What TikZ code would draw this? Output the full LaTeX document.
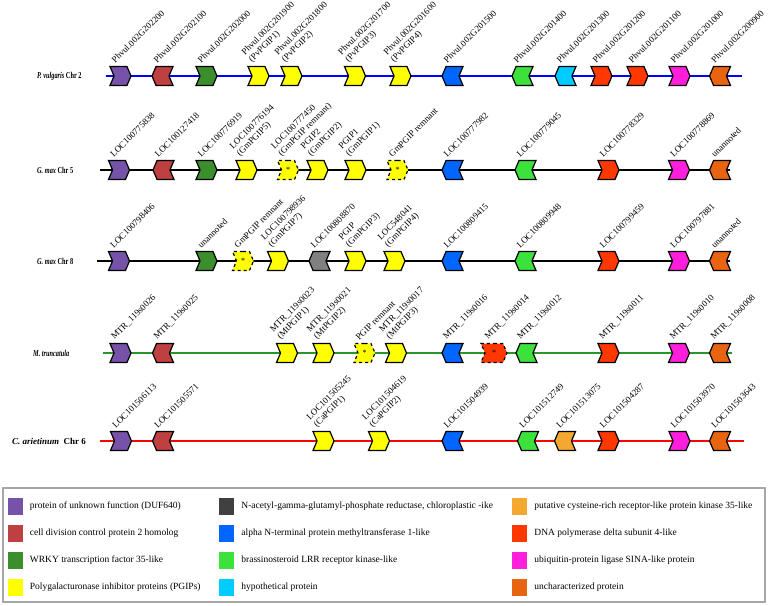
\documentclass[tikz,border=0pt]{standalone}
\usepackage{fontspec}
\setmainfont{Liberation Serif}
\usetikzlibrary{shapes.symbols}

\definecolor{cPurple}{RGB}{118,82,168}
\definecolor{cBrick}{RGB}{190,64,64}
\definecolor{cLeaf}{RGB}{58,142,44}
\definecolor{cYellow}{RGB}{255,255,0}
\definecolor{cGray}{RGB}{128,128,128}
\definecolor{cDark}{RGB}{64,64,64}
\definecolor{cBlue}{RGB}{0,102,255}
\definecolor{cLime}{RGB}{60,225,60}
\definecolor{cCyan}{RGB}{0,204,255}
\definecolor{cAmber}{RGB}{245,168,48}
\definecolor{cScarlet}{RGB}{255,56,0}
\definecolor{cPink}{RGB}{255,30,220}
\definecolor{cOrange}{RGB}{232,100,16}
\definecolor{lineBlue}{RGB}{0,0,255}
\definecolor{lineGreen}{RGB}{40,150,40}
\definecolor{lineRed}{RGB}{255,0,0}

\tikzset{
  gene/.style={signal, draw, line width=1.2pt, inner sep=0pt,
    minimum width=21pt, minimum height=19pt, signal pointer angle=134},
  fwd/.style={gene, signal from=west, signal to=east},
  rev/.style={gene, signal from=east, signal to=west},
  fwdrem/.style={fwd, dashed, path picture={
    \node[font=\fontsize{8}{8}\selectfont] at (path picture bounding box.center) {*};}},
  fwdremw/.style={fwdrem, minimum width=26pt},
  lbl/.style={rotate=45, anchor=south west, align=left, inner sep=0pt,
    font=\fontsize{9}{10}\selectfont},
  chrom/.style={line width=1.5pt},
  species/.style={anchor=west, inner sep=0pt, font=\bfseries\fontsize{9}{10}\selectfont},
  key/.style={minimum width=15pt, minimum height=17pt, inner sep=0pt},
  keytext/.style={anchor=west, inner sep=0pt, font=\fontsize{9.5}{11}\selectfont}
}

\begin{document}
\begin{tikzpicture}[x=1pt,y=-1pt]
\useasboundingbox (0,0) rectangle (778,605);

% P. vulgaris
\node[species] (pvName) at (37,76) {\scalebox{0.7}[1]{\textit{P. vulgaris} Chr 2}};
\coordinate (pvL) at (106,76); \coordinate (pvR) at (742,76);
\draw[chrom,lineBlue] (pvL) -- (pvR);
\foreach \x/\d/\c/\t [count=\i] in {
  120.5/fwd/cPurple/{Phvul.002G202200}, 162.5/rev/cBrick/{Phvul.002G202100},
  206.5/fwd/cLeaf/{Phvul.002G202000}, 258.5/fwd/cYellow/{Phvul.002G201900\\(PvPGIP1)},
  291.5/fwd/cYellow/{Phvul.002G201800\\(PvPGIP2)}, 355/fwd/cYellow/{Phvul.002G201700\\(PvPGIP3)},
  400.5/fwd/cYellow/{Phvul.002G201600\\(PvPGIP4)}, 452.5/rev/cBlue/{Phvul.002G201500},
  522.5/rev/cLime/{Phvul.002G201400}, 565.5/rev/cCyan/{Phvul.002G201300},
  601.5/fwd/cScarlet/{Phvul.002G201200}, 637.5/fwd/cScarlet/{Phvul.002G201100},
  679.5/fwd/cPink/{Phvul.002G201000}, 720/rev/cOrange/{Phvul.002G200900}}
{
  \node[\d,fill=\c] (pv\i) at (\x,76) {};
  \node[lbl] (pvl\i) at ([xshift=-5pt,yshift=2pt]pv\i.north) {\t};
}

% G. max Chr 5
\node[species] (gaName) at (37,170) {\scalebox{0.7}[1]{\textit{G. max} Chr 5}};
\coordinate (gaL) at (100,170); \coordinate (gaR) at (730,170);
\draw[chrom] (gaL) -- (gaR);
\foreach \x/\d/\c/\t [count=\i] in {
  119/fwd/cPurple/{LOC100775838}, 163.5/rev/cBrick/{LOC100127418},
  206.5/fwd/cLeaf/{LOC100776919}, 246.5/fwd/cYellow/{LOC100776194\\(GmPGIP5)},
  288/fwdrem/cYellow/{LOC100777450\\(GmPGIP remnant)}, 317.5/fwd/cYellow/{PGIP2\\(GmPGIP2)},
  355.5/fwd/cYellow/{PGIP1\\(GmPGIP1)}, 397.5/fwdrem/cYellow/{GmPGIP remnant},
  452.5/rev/cBlue/{LOC100777982}, 525.5/rev/cLime/{LOC100779045},
  608.5/fwd/cScarlet/{LOC100778329}, 679/fwd/cPink/{LOC100778869},
  720/rev/cOrange/{unannoted}}
{
  \node[\d,fill=\c] (ga\i) at (\x,170) {};
  \node[lbl] (gal\i) at ([xshift=-5pt,yshift=2pt]ga\i.north) {\t};
}

% G. max Chr 8
\node[species] (gbName) at (37,261) {\scalebox{0.7}[1]{\textit{G. max} Chr 8}};
\coordinate (gbL) at (97,261); \coordinate (gbR) at (730,261);
\draw[chrom] (gbL) -- (gbR);
\foreach \x/\d/\c/\t [count=\i] in {
  119/fwd/cPurple/{LOC100798406}, 206.5/fwd/cLeaf/{unannoted},
  243/fwdrem/cYellow/{GmPGIP remnant}, 278/fwd/cYellow/{LOC100798936\\(GmPGIP7)},
  319.5/rev/cGray/{LOC100808870}, 355.5/fwd/cYellow/{PGIP\\(GmPGIP3)},
  394.5/fwd/cYellow/{LOC548041\\(GmPGIP4)}, 452.5/rev/cBlue/{LOC100809415},
  525.5/rev/cLime/{LOC100809948}, 608.5/fwd/cScarlet/{LOC100799459},
  679/fwd/cPink/{LOC100797881}, 720/rev/cOrange/{unannoted}}
{
  \node[\d,fill=\c] (gb\i) at (\x,261) {};
  \node[lbl] (gbl\i) at ([xshift=-5pt,yshift=2pt]gb\i.north) {\t};
}

% M. truncatula
\node[species] (mtName) at (33,353) {\scalebox{0.7}[1]{\textit{M. truncatula}}};
\coordinate (mtL) at (103,353); \coordinate (mtR) at (732,353);
\draw[chrom,lineGreen] (mtL) -- (mtR);
\foreach \x/\d/\c/\t [count=\i] in {
  120.5/fwd/cPurple/{MTR\_119s0026}, 163/rev/cBrick/{MTR\_119s0025},
  287/fwd/cYellow/{MTR\_119s0023\\(MtPGIP1)}, 323.5/fwd/cYellow/{MTR\_119s0021\\(MtPGIP2)},
  364.5/fwdrem/cYellow/{PGIP remnant}, 396/fwd/cYellow/{MTR\_119s0017\\(MtPGIP3)},
  452.5/rev/cBlue/{MTR\_119s0016}, 494/fwdremw/cScarlet/{MTR\_119s0014},
  526.5/rev/cLime/{MTR\_119s0012}, 608.5/fwd/cScarlet/{MTR\_119s0011},
  679/fwd/cPink/{MTR\_119s0010}, 720/rev/cOrange/{MTR\_119s0008}}
{
  \node[\d,fill=\c] (mt\i) at (\x,353) {};
  \node[lbl] (mtl\i) at ([xshift=-5pt,yshift=2pt]mt\i.north) {\t};
}

% C. arietinum Chr 6
\node[species] (caName) at (12,441) {\textit{C. arietinum}\ \ Chr 6};
\coordinate (caL) at (100,441); \coordinate (caR) at (744,441);
\draw[chrom,lineRed] (caL) -- (caR);
\foreach \x/\d/\c/\t [count=\i] in {
  121/fwd/cPurple/{LOC101506113}, 163/rev/cBrick/{LOC101505571},
  323.5/fwd/cYellow/{LOC101505245\\(CaPGIP1)}, 379/fwd/cYellow/{LOC101504619\\(CaPGIP2)},
  452.5/rev/cBlue/{LOC101504939}, 528/rev/cLime/{LOC101512749},
  565/rev/cAmber/{LOC101513075}, 608.5/fwd/cScarlet/{LOC101504287},
  679.5/fwd/cPink/{LOC101503970}, 720/rev/cOrange/{LOC101503643}}
{
  \node[\d,fill=\c] (ca\i) at (\x,441) {};
  \node[lbl] (cal\i) at ([xshift=-5pt,yshift=2pt]ca\i.north) {\t};
}

% legend
\draw[gray!70,line width=1.5pt] (3,488) rectangle (765,602);
\foreach \px/\py/\c/\t [count=\i] in {
  15/506/cPurple/{protein of unknown function (DUF640)},
  15/533/cBrick/{cell division control protein 2 homolog},
  15/560/cLeaf/{WRKY transcription factor 35-like},
  15/587/cYellow/{Polygalacturonase inhibitor proteins (PGIPs)},
  226.5/506/cDark/{N-acetyl-gamma-glutamyl-phosphate reductase, chloroplastic -ike},
  226.5/533/cBlue/{alpha N-terminal protein methyltransferase 1-like},
  226.5/560/cLime/{brassinosteroid LRR receptor kinase-like},
  226.5/587/cCyan/{hypothetical protein},
  519.5/506/cAmber/{putative cysteine-rich receptor-like protein kinase 35-like},
  519.5/533/cScarlet/{DNA polymerase delta subunit 4-like},
  519.5/560/cPink/{ubiquitin-protein ligase SINA-like protein},
  519.5/587/cOrange/{uncharacterized protein}}
{
  \node[key,fill=\c] (k\i) at (\px,\py) {};
  \node[keytext] (kt\i) at ([xshift=7pt]k\i.east) {\t};
}
\end{tikzpicture}
\end{document}
